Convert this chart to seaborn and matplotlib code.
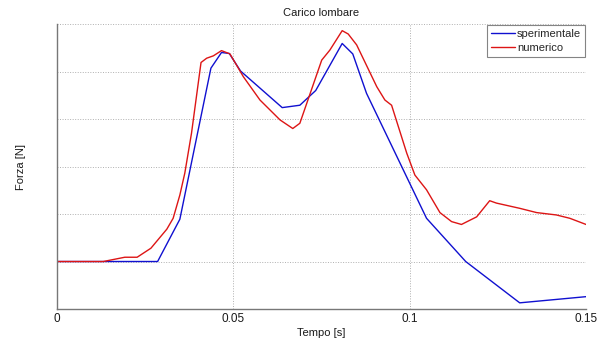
import numpy as np
import pandas as pd
import matplotlib
matplotlib.use("Agg")
import matplotlib.pyplot as plt
import seaborn as sns

# Experimental lumbar load
t_sper = [0.0, 0.0286, 0.0349, 0.0437, 0.0467, 0.0489, 0.0521, 0.0639, 0.0689,
          0.0734, 0.0809, 0.0839, 0.0878, 0.1048, 0.1159, 0.1312, 0.15]
f_sper = [1.0, 1.0, 1.89, 5.07, 5.40, 5.38, 5.01, 4.24, 4.29,
          4.60, 5.59, 5.37, 4.54, 1.91, 1.0, 0.13, 0.26]

# Numerical lumbar load
t_num = [0.0, 0.0132, 0.0193, 0.0228, 0.0267, 0.0312, 0.0330, 0.0349, 0.0363,
         0.0382, 0.0409, 0.0425, 0.0444, 0.0467, 0.0491, 0.0529, 0.0576, 0.0633,
         0.0669, 0.0689, 0.0751, 0.0774, 0.0809, 0.0826, 0.0850, 0.0907, 0.0930,
         0.0949, 0.0992, 0.1015, 0.1048, 0.1086, 0.1119, 0.1147, 0.1190, 0.1227,
         0.1246, 0.1312, 0.1360, 0.1416, 0.1454, 0.15]
f_num = [1.0, 1.0, 1.09, 1.09, 1.28, 1.68, 1.91, 2.40, 2.86,
         3.70, 5.19, 5.28, 5.33, 5.44, 5.37, 4.89, 4.40, 3.98,
         3.80, 3.91, 5.24, 5.45, 5.86, 5.79, 5.56, 4.68, 4.40,
         4.29, 3.28, 2.82, 2.51, 2.03, 1.84, 1.78, 1.94, 2.28,
         2.23, 2.12, 2.03, 1.98, 1.91, 1.78]

x_ticks = [0, 0.05, 0.1, 0.15]
x_ticklabels = ["0", "0.05", "0.1", "0.15"]
series_names = ["sperimentale", "numerico"]

df = pd.concat([
    pd.DataFrame({"Tempo": t_sper, "Forza": f_sper, "serie": series_names[0]}),
    pd.DataFrame({"Tempo": t_num, "Forza": f_num, "serie": series_names[1]}),
], ignore_index=True)

sns.set_style("white")
plt.rcParams["font.family"] = ["Liberation Sans", "DejaVu Sans"]

fig = plt.figure(figsize=(5.98, 3.41), dpi=100)
ax = fig.add_axes([0.0948, 0.0938, 0.8852, 0.8358])

sns.lineplot(data=df, x="Tempo", y="Forza", hue="serie", sort=False,
             palette={"sperimentale": "#1010d0", "numerico": "#dd1515"},
             linewidth=1.0, ax=ax, estimator=None)

ax.set_xlim(0, 0.15)
ax.set_ylim(0, 6)
ax.set_xticks(x_ticks)
ax.set_xticklabels(x_ticklabels)
ax.set_yticks(range(0, 7))
ax.set_yticklabels([])
ax.tick_params(axis="both", direction="in", length=3, color="#777777",
               labelsize=8.5, labelcolor="#1a1a1a", pad=3)
ax.grid(True, linestyle=(0, (1, 1.6)), color="#b0b0b0", linewidth=0.7)

for s in ["top", "right"]:
    ax.spines[s].set_visible(False)
for s in ["left", "bottom"]:
    ax.spines[s].set_color("#777777")
    ax.spines[s].set_linewidth(1.0)

ax.set_title("Carico lombare", fontsize=8, color="#1a1a1a", pad=6)
ax.set_xlabel("Tempo [s]", fontsize=8, color="#1a1a1a", labelpad=2)
ax.set_ylabel("Forza [N]", fontsize=8, color="#1a1a1a", labelpad=19)

leg = ax.legend(loc="upper right", fontsize=8, frameon=True, fancybox=False,
                handlelength=2.1, handletextpad=0.2, borderpad=0.35,
                labelspacing=0.35, borderaxespad=0.1)
leg.get_frame().set_edgecolor("#666666")
leg.get_frame().set_linewidth(0.8)

fig.savefig("out.png", dpi=100)
